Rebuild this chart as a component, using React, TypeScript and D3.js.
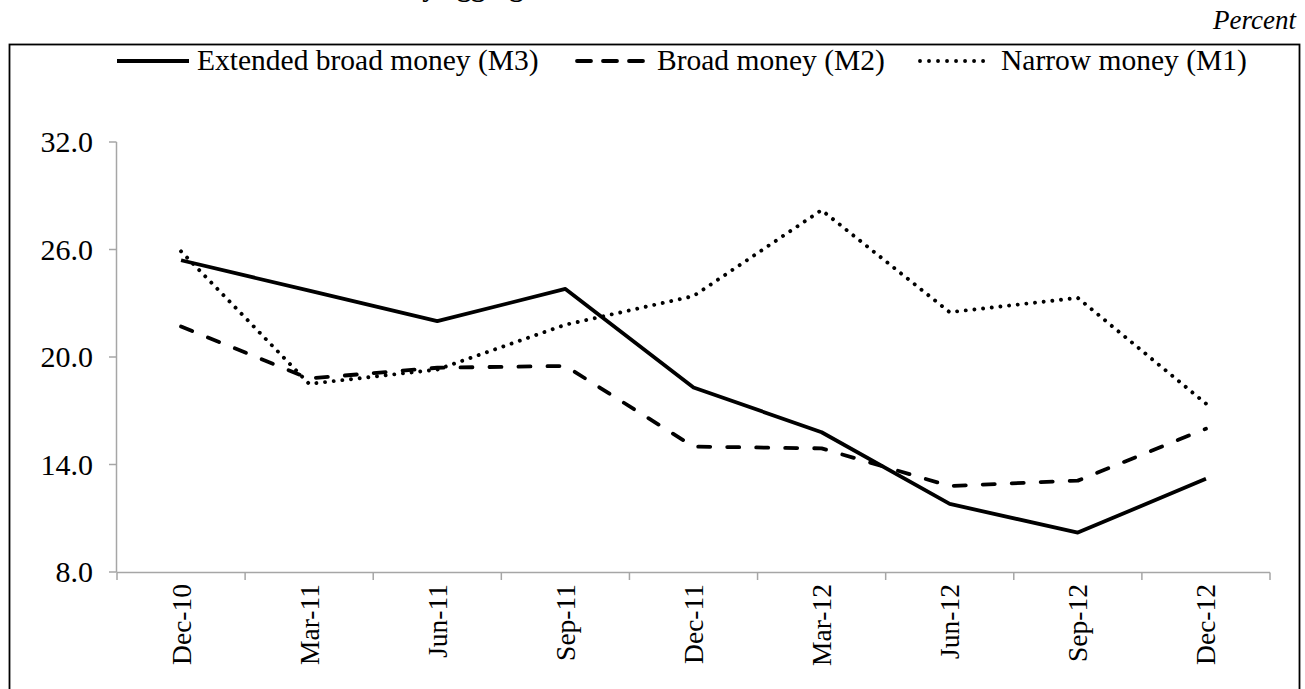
import React from "react";
import * as d3 from "d3";

const categories = ["Dec-10", "Mar-11", "Jun-11", "Sep-11", "Dec-11", "Mar-12", "Jun-12", "Sep-12", "Dec-12"];
const m3Values = [25.4, 23.7, 22.0, 23.8, 18.3, 15.8, 11.8, 10.2, 13.2];
const m2Values = [21.7, 18.8, 19.4, 19.5, 15.0, 14.9, 12.8, 13.1, 16.0];
const m1Values = [25.9, 18.5, 19.3, 21.8, 23.4, 28.2, 22.5, 23.3, 17.4];
const yTicks = [8, 14, 20, 26, 32];
const seriesNames = ["Extended broad money (M3)", "Broad money (M2)", "Narrow money (M1)"];

const W = 1305;
const H = 689;
const FONT = "'Liberation Serif', 'Times New Roman', serif";

const styles = [
  { dash: undefined as string | undefined, legendDash: undefined as string | undefined, cap: "butt", width: 3.8 },
  { dash: "12 17", legendDash: "14 12", cap: "round", width: 3.8 },
  { dash: "0.01 8.7", legendDash: "0.01 9", cap: "round", width: 3.9 },
];

export default function App() {
  const x = d3.scaleBand<string>().domain(categories).range([117, 1270]).padding(0);
  const y = d3.scaleLinear().domain([8, 32]).range([572, 142]);
  const cx = (c: string) => (x(c) as number) + x.bandwidth() / 2;
  const line = d3
    .line<number>()
    .x((_, i) => cx(categories[i]))
    .y((v) => y(v));
  const series = [m3Values, m2Values, m1Values];
  const fmt = d3.format(".1f");
  const edges = [...categories.map((c) => x(c) as number), 1270];

  const legendItems = [
    { x1: 117, x2: 189, tx: 197 },
    { x1: 577, x2: 647, tx: 657 },
    { x1: 920, x2: 992, tx: 1001 },
  ];

  return (
    <div style={{ position: "fixed", left: 0, top: 0, width: W, height: H, background: "#fff" }}>
      <svg width={W} height={H} style={{ display: "block" }} fontFamily={FONT}>
        <rect x={0} y={0} width={W} height={H} fill="#fff" />
        <text x={318} y={-4} fontSize={28} fontWeight="bold" fill="#000">
          Monetary aggregates
        </text>
        <text x={1296} y={29} textAnchor="end" fontSize={27} fontStyle="italic" fill="#000">
          Percent
        </text>
        <rect x={9.5} y={44.5} width={1290} height={700} fill="none" stroke="#000" strokeWidth={1.8} />

        {/* legend */}
        {legendItems.map((it, i) => (
          <g key={i}>
            <line
              x1={it.x1}
              x2={it.x2}
              y1={61}
              y2={61}
              stroke="#000"
              strokeWidth={styles[i].width}
              strokeDasharray={styles[i].legendDash}
              strokeLinecap={styles[i].cap as any}
            />
            <text x={it.tx} y={70} fontSize={29.5} fill="#000">
              {seriesNames[i]}
            </text>
          </g>
        ))}

        {/* y axis */}
        <line x1={116.5} x2={116.5} y1={y(32)} y2={y(8)} stroke="#a6a6a6" strokeWidth={1.5} />
        {yTicks.map((t) => (
          <g key={t}>
            <line x1={109} x2={116.5} y1={y(t)} y2={y(t)} stroke="#a6a6a6" strokeWidth={1.5} />
            <text x={93} y={y(t) + 10} textAnchor="end" fontSize={30} fill="#000">
              {fmt(t)}
            </text>
          </g>
        ))}

        {/* x axis */}
        <line x1={116.5} x2={1270} y1={572.5} y2={572.5} stroke="#a6a6a6" strokeWidth={1.5} />
        {edges.map((e, i) => (
          <line key={i} x1={e} x2={e} y1={572.5} y2={580} stroke="#a6a6a6" strokeWidth={1.5} />
        ))}
        {categories.map((c) => (
          <text
            key={c}
            transform={`translate(${cx(c) + 9.5},${584}) rotate(-90)`}
            textAnchor="end"
            fontSize={27.5}
            fill="#000"
          >
            {c}
          </text>
        ))}

        {/* series */}
        {series.map((s, i) => (
          <path
            key={i}
            d={line(s) as string}
            fill="none"
            stroke="#000"
            strokeWidth={styles[i].width}
            strokeDasharray={styles[i].dash}
            strokeLinecap={styles[i].cap as any}
            strokeLinejoin="round"
          />
        ))}
      </svg>
    </div>
  );
}
